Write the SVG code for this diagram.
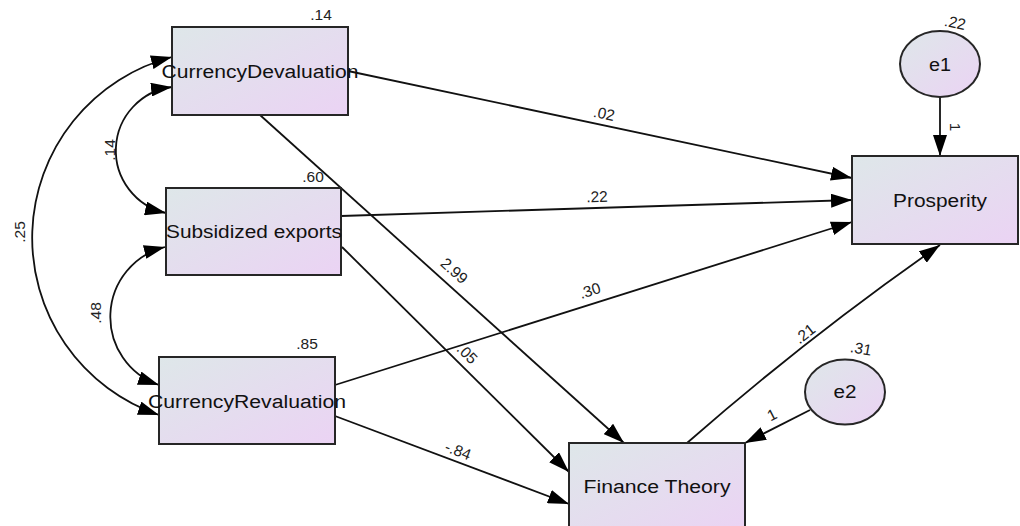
<svg xmlns="http://www.w3.org/2000/svg" width="1020" height="526" viewBox="0 0 1020 526">
<style>
.box{stroke:#262626;stroke-width:2;fill:url(#g)}
.lbl{font-family:"Liberation Sans",Arial,sans-serif;font-size:18px;fill:#111;text-anchor:middle}
.num{font-family:"Liberation Sans",Arial,sans-serif;font-size:15.5px;fill:#222;text-anchor:middle}
.ln{fill:none;stroke:#111;stroke-width:1.8;marker-end:url(#ah)}
.cv{fill:none;stroke:#111;stroke-width:1.8;marker-end:url(#ah);marker-start:url(#ah)}
</style>
<defs>
<linearGradient id="g" x1="0" y1="0" x2="1" y2="1">
<stop offset="0" stop-color="#dee7e9"/>
<stop offset="1" stop-color="#ebd3f4"/>
</linearGradient>
<marker id="ah" markerUnits="userSpaceOnUse" markerWidth="22" markerHeight="14" refX="21" refY="7" orient="auto-start-reverse" viewBox="0 0 22 14">
<path d="M0,0 L21,7 L0,14 Z" fill="#000"/>
</marker>
</defs>
<rect width="1020" height="526" fill="#fff"/>

<g id="connectors">
<path class="cv" d="M172,87 A64,64 0 0 0 166,213"/>
<path class="cv" d="M172,57 A187,187 0 0 0 159,415"/>
<path class="cv" d="M165,247 A72,72 0 0 0 159,385"/>
<path class="ln" d="M348,71 L852,178"/>
<path class="ln" d="M341,216 L852,200"/>
<path class="ln" d="M335,385 L852,222"/>
<path class="ln" d="M260,115 L624,443"/>
<path class="ln" d="M342,247 L569,472"/>
<path class="ln" d="M335,416 L569,504"/>
<path class="ln" d="M687,443 Q808,337 940,245"/>
<path class="ln" d="M940,97 L940,156"/>
<path class="ln" d="M810,410 L745,443"/>
<text class="num" transform="translate(110,150) rotate(-90)" y="5">.14</text>
<text class="num" transform="translate(20,232) rotate(-90)" y="5">.25</text>
<text class="num" transform="translate(96,313) rotate(-90)" y="5">.48</text>
<text class="num" transform="translate(604,114) rotate(12)" y="5">.02</text>
<text class="num" transform="translate(597,197) rotate(-2)" y="5">.22</text>
<text class="num" transform="translate(590,291) rotate(-17.5)" y="5">.30</text>
<text class="num" transform="translate(454,271) rotate(42)" y="5">2.99</text>
<text class="num" transform="translate(467,354) rotate(45)" y="5">.05</text>
<text class="num" transform="translate(458,451) rotate(21)" y="5">-.84</text>
<text class="num" transform="translate(805,334) rotate(-38)" y="5">.21</text>
<text class="num" transform="translate(955,127) rotate(90)" y="5">1</text>
<text class="num" transform="translate(772,415) rotate(-27)" y="5">1</text>
</g>

<g id="CurrencyDevaluation">
<rect class="box" x="172" y="27" width="176" height="88"/>
<text class="lbl" x="260" y="78" textLength="197" lengthAdjust="spacingAndGlyphs">CurrencyDevaluation</text>
<text class="num" x="321" y="20">.14</text>
</g>
<g id="SubsidizedExports">
<rect class="box" x="166" y="188" width="175" height="87"/>
<text class="lbl" x="254" y="238" textLength="176" lengthAdjust="spacingAndGlyphs">Subsidized exports</text>
<text class="num" x="313" y="182">.60</text>
</g>
<g id="CurrencyRevaluation">
<rect class="box" x="159" y="357" width="176" height="87"/>
<text class="lbl" x="247" y="408" textLength="198" lengthAdjust="spacingAndGlyphs">CurrencyRevaluation</text>
<text class="num" x="307" y="349">.85</text>
</g>
<g id="Prosperity">
<rect class="box" x="852" y="156" width="166" height="88"/>
<text class="lbl" x="940" y="207" textLength="94" lengthAdjust="spacingAndGlyphs">Prosperity</text>
</g>
<g id="FinanceTheory">
<rect class="box" x="569" y="443" width="176" height="88"/>
<text class="lbl" x="657" y="493" textLength="147" lengthAdjust="spacingAndGlyphs">Finance Theory</text>
</g>
<g id="e1">
<ellipse class="box" cx="940" cy="64" rx="40" ry="33"/>
<text class="lbl" x="940" y="71" textLength="22" lengthAdjust="spacingAndGlyphs">e1</text>
<text class="num" transform="translate(955,23) rotate(12)" y="5">.22</text>
</g>
<g id="e2">
<ellipse class="box" cx="845" cy="392" rx="40" ry="32.5"/>
<text class="lbl" x="845" y="398" textLength="23" lengthAdjust="spacingAndGlyphs">e2</text>
<text class="num" transform="translate(861,349) rotate(10)" y="5">.31</text>
</g>
</svg>
